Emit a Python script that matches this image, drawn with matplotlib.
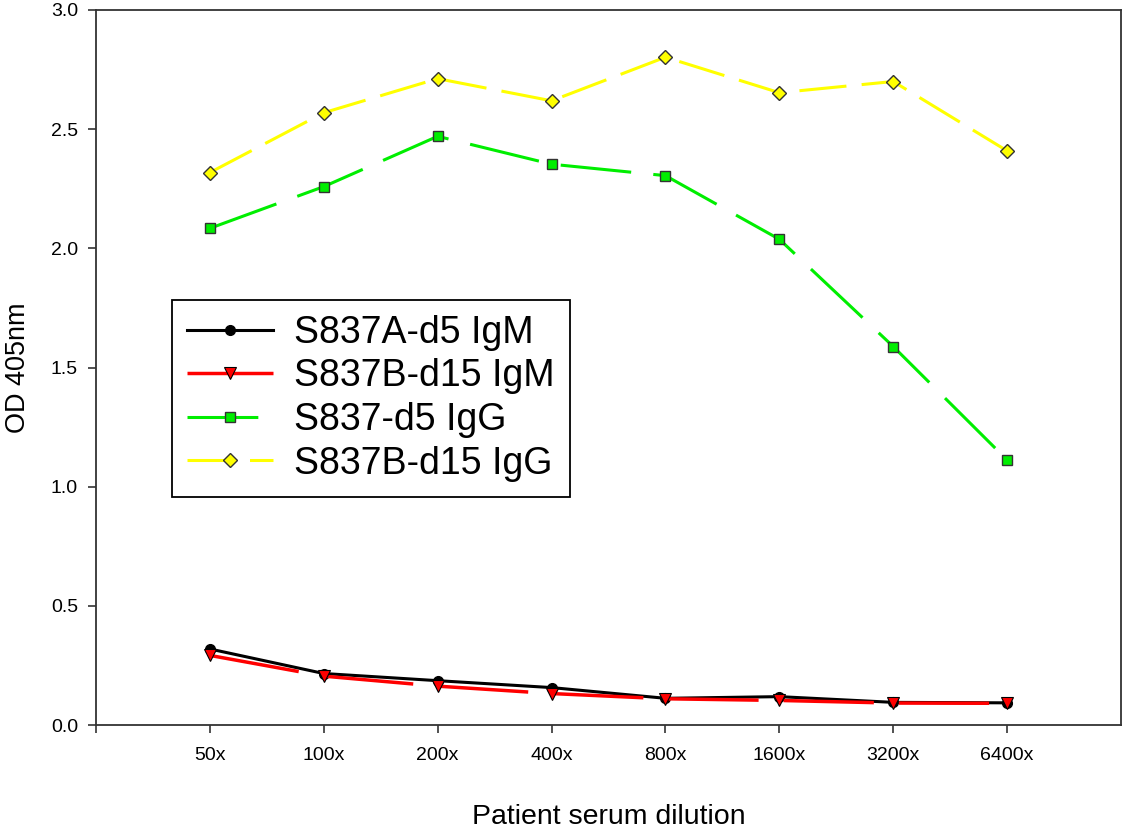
import matplotlib
matplotlib.use("Agg")
import matplotlib.pyplot as plt

plt.rcParams['font.family'] = ['Liberation Sans', 'DejaVu Sans']
plt.rcParams['lines.scale_dashes'] = False

# Serum dilution series and OD readings
dilutions = ["50x", "100x", "200x", "400x", "800x", "1600x", "3200x", "6400x"]
igm_a_d5 = [0.319, 0.216, 0.186, 0.157, 0.112, 0.119, 0.095, 0.093]
igm_b_d15 = [0.292, 0.205, 0.163, 0.132, 0.110, 0.103, 0.092, 0.091]
igg_d5 = [2.084, 2.259, 2.470, 2.353, 2.305, 2.038, 1.588, 1.112]
igg_b_d15 = [2.318, 2.569, 2.712, 2.619, 2.802, 2.653, 2.700, 2.409]

series_names = ["S837A-d5 IgM", "S837B-d15 IgM", "S837-d5 IgG", "S837B-d15 IgG"]
yticks = [0.0, 0.5, 1.0, 1.5, 2.0, 2.5, 3.0]

W, H = 1131, 832
fig = plt.figure(figsize=(W / 100, H / 100), dpi=100)
ax = fig.add_axes([96 / W, (H - 725) / H, (1121 - 96) / W, (725 - 10) / H])

pos = list(range(1, len(dilutions) + 1))
lw = 2.2

ax.plot(pos, igm_a_d5, color="black", lw=lw, marker="o", ms=7,
        mfc="black", mec="black", label=series_names[0])
ax.plot(pos, igm_b_d15, color="#ff0000", lw=lw + 0.3, dashes=(65, 18), marker="v", ms=8.5,
        mfc="#ff0000", mec="black", mew=0.8, label=series_names[1])
ax.plot(pos, igg_d5, color="#00ee00", lw=lw, dashes=(51, 16), marker="s", ms=7,
        mfc="#00ee00", mec="#333333", mew=1.0, label=series_names[2])
ax.plot(pos, igg_b_d15, color="#ffff00", lw=lw, dashes=(34, 11), marker="D", ms=7.5,
        mfc="#ffff00", mec="#333333", mew=1.0, label=series_names[3])

ax.set_xlim(0, len(dilutions) + 1)
ax.set_ylim(0, 3.0)
ax.set_xticks([0] + pos)
ax.set_xticklabels([""] + dilutions)
ax.set_yticks(yticks)
ax.set_yticklabels([f"{v:.1f}" for v in yticks])

for s in ax.spines.values():
    s.set_color("#333333")
    s.set_linewidth(1.3)
ax.tick_params(axis="both", direction="out", length=6, width=1.2, color="#333333",
               labelsize=14, pad=7)
ax.tick_params(axis="x", pad=10)

ax.set_xlabel("Patient serum dilution", fontsize=20.5, labelpad=29)
ax.set_ylabel("OD 405nm", fontsize=19.5, labelpad=14)

leg = ax.legend(loc="upper left", bbox_to_anchor=(172 / W, 1 - 300 / H),
                bbox_transform=fig.transFigure, borderaxespad=0,
                fontsize=27, handlelength=2.3, handletextpad=0.55,
                labelspacing=0.2, borderpad=0.4, fancybox=False,
                frameon=True, edgecolor="black", framealpha=1)
leg.get_frame().set_linewidth(1.3)

fig.savefig("out.png", dpi=100, facecolor="white")
